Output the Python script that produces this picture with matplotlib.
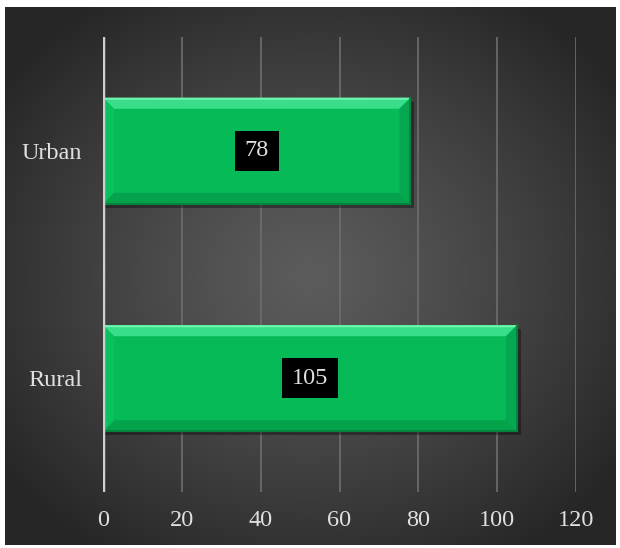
import matplotlib.pyplot as plt
import numpy as np
from matplotlib.patches import Polygon, Rectangle

categories = ['Rural', 'Urban']
values = [105, 78]
x_ticks = [0, 20, 40, 60, 80, 100, 120]

face = '#06ba58'
light = '#3ade8a'
dark = '#04843f'
txt = '#e0e0e0'
serif = ['Liberation Serif', 'DejaVu Serif']

fig = plt.figure(figsize=(6.2, 5.48), dpi=100)
fig.patch.set_facecolor('white')

# radial gradient backdrop
bg = fig.add_axes([5 / 620, 3 / 548, 611 / 620, 538 / 548])
yy, xx = np.mgrid[0:1:300j, 0:1:340j]
r = np.sqrt(((xx - 0.5) / 0.62) ** 2 + ((yy - 0.5) / 0.62) ** 2)
r = np.clip(r, 0, 1)
g = 0.36 - (0.36 - 0.15) * r ** 1.2
bg.imshow(np.dstack([g, g, g]), extent=[0, 1, 0, 1], aspect='auto')
bg.axis('off')

ax = fig.add_axes([103 / 620, 56 / 548, 473 / 620, 455 / 548])
ax.patch.set_alpha(0)
ax.set_xlim(0, 120)
ax.set_ylim(-0.5, 1.5)

ypos = np.arange(len(categories))
h = 0.466
ax.grid(axis='x', color='#6e6e6e', lw=1.2, zorder=0)
ax.set_axisbelow(True)

# px -> data units
px_x = 120 / 473
px_y = 2 / 455
bx = 11 * px_x
by = 11 * px_y

for y, v in zip(ypos, values):
    top = y + h / 2
    bot = y - h / 2
    # shadow
    ax.add_patch(Rectangle((0, bot - 4 * px_y), v + 4 * px_x, h, color='black', alpha=0.35, lw=0, zorder=1))
    ax.barh(y, v, height=h, color=face, zorder=2)
    # bevel edges
    ax.add_patch(Polygon([(0, top), (v, top), (v - bx, top - by), (bx, top - by)],
                         color=light, lw=0, zorder=3))
    ax.add_patch(Polygon([(0, top), (v, top), (v - 0.4, top - 2 * px_y), (0.4, top - 2 * px_y)],
                         color='#6ff5ae', lw=0, zorder=3))
    ax.add_patch(Polygon([(0, bot), (v, bot), (v - bx, bot + by), (bx, bot + by)],
                         color='#05a24c', lw=0, zorder=3))
    ax.add_patch(Polygon([(v, bot), (v, top), (v - bx, top - by), (v - bx, bot + by)],
                         color='#05a850', lw=0, zorder=3))
    ax.add_patch(Polygon([(0, bot), (0, top), (bx, top - by), (bx, bot + by)],
                         color='#07c25d', lw=0, zorder=3))
    ax.plot([v, v], [bot, top], color=dark, lw=1.5, zorder=4)
    ax.plot([0, v], [bot, bot], color=dark, lw=1.5, zorder=4)
    ax.text(v / 2, y, str(v), ha='center', va='center', color=txt, fontsize=17.5,
            family=serif, zorder=5,
            bbox=dict(boxstyle='square,pad=0.4', fc='black', ec='none'))

ax.axvline(0, color='#cfcfcf', lw=2.5, zorder=6)
ax.set_yticks(ypos)
ax.set_yticklabels(categories)
ax.set_xticks(x_ticks)
for s in ax.spines.values():
    s.set_visible(False)
ax.tick_params(length=0, colors=txt, labelsize=17.5)
ax.tick_params(axis='x', pad=13)
ax.tick_params(axis='y', pad=15)
for lab in ax.get_xticklabels() + ax.get_yticklabels():
    lab.set_family(serif)

fig.savefig('out.png', dpi=100, facecolor='white')
